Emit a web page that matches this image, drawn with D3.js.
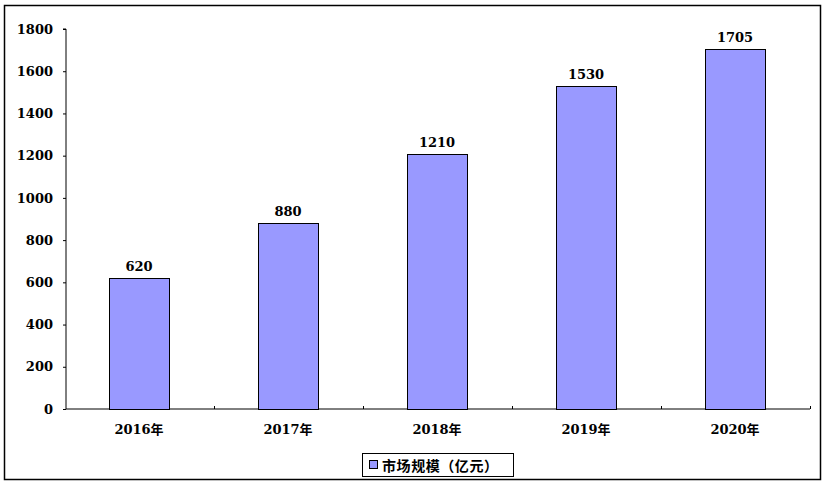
<!DOCTYPE html>
<html><head><meta charset="utf-8">
<script src="https://cdn.jsdelivr.net/npm/d3@7"></script>
<style>body{margin:0;background:#fff}</style>
</head><body>
<svg id="c" width="830" height="484"></svg>
<script>
const categories = ["2016年","2017年","2018年","2019年","2020年"];
const values = [620, 880, 1210, 1530, 1705];
const yTicks = [0,200,400,600,800,1000,1200,1400,1600,1800];
const seriesName = "市场规模（亿元）";

(function(){
const svg = d3.select("#c");
const font = "'DejaVu Serif','Noto Sans CJK SC',serif";
svg.append("rect").attr("x",4.5).attr("y",5.5).attr("width",816).attr("height",474)
  .attr("fill","#fff").attr("stroke","#000").attr("stroke-width",1.5);

const pl=66, pr=810, pt=29, pb=409;
const x = d3.scaleBand().domain(categories).range([64.5,809.5]).padding(0);
const y = d3.scaleLinear().domain([0,1800]).range([pb,pt]);

const yAxis = svg.append("g").attr("transform",`translate(${pl},0)`)
  .call(d3.axisLeft(y).tickValues(yTicks).tickSize(3).tickPadding(10).tickFormat(d3.format("d")));
yAxis.select(".domain").attr("stroke","#000").attr("d",`M-3,${pt}H0V${pb}`);
yAxis.selectAll("text").attr("font-family",font).attr("font-weight","bold").attr("font-size","13px").attr("fill","#000");

const xAxis = svg.append("g").attr("transform",`translate(0,${pb})`)
  .call(d3.axisBottom(x).tickSize(0).tickPadding(16));
xAxis.select(".domain").attr("d",`M${pl},0H${pr}`).attr("stroke","#000");
xAxis.selectAll("text").attr("font-family",font).attr("font-weight","bold").attr("font-size","13px").attr("fill","#000");
const seps = categories.slice(1).map(d=>x(d)).concat([pr]);
svg.append("g").selectAll("line").data(seps).join("line")
  .attr("x1",d=>Math.round(d)+0.5).attr("x2",d=>Math.round(d)+0.5).attr("y1",pb-3).attr("y2",pb)
  .attr("stroke","#000");

const bw = x.bandwidth()*0.4;
svg.append("g").selectAll("rect").data(values).join("rect")
  .attr("x",(d,i)=>Math.round(x(categories[i])+x.bandwidth()/2-bw/2)+0.5)
  .attr("y",d=>Math.round(y(d))+0.5)
  .attr("width",Math.round(bw))
  .attr("height",d=>pb-Math.round(y(d)))
  .attr("fill","#9999FF").attr("stroke","#000").attr("stroke-width",1);

svg.append("g").selectAll("text").data(values).join("text")
  .attr("x",(d,i)=>x(categories[i])+x.bandwidth()/2)
  .attr("y",d=>y(d)-7)
  .attr("text-anchor","middle")
  .attr("font-family",font).attr("font-weight","bold").attr("font-size","13px")
  .text(d=>d);

const lg = svg.append("g");
lg.append("rect").attr("x",362.5).attr("y",453.5).attr("width",151).attr("height",23)
  .attr("fill","#fff").attr("stroke","#000");
lg.append("rect").attr("x",369.5).attr("y",460.5).attr("width",8).attr("height",8)
  .attr("fill","#9999FF").attr("stroke","#000");
lg.append("text").attr("x",382).attr("y",471).attr("font-family","'Noto Sans CJK SC',sans-serif")
  .attr("font-weight","bold").attr("font-size","14px").attr("textLength",116).attr("lengthAdjust","spacing").text(seriesName);
})();
</script>
</body></html>
